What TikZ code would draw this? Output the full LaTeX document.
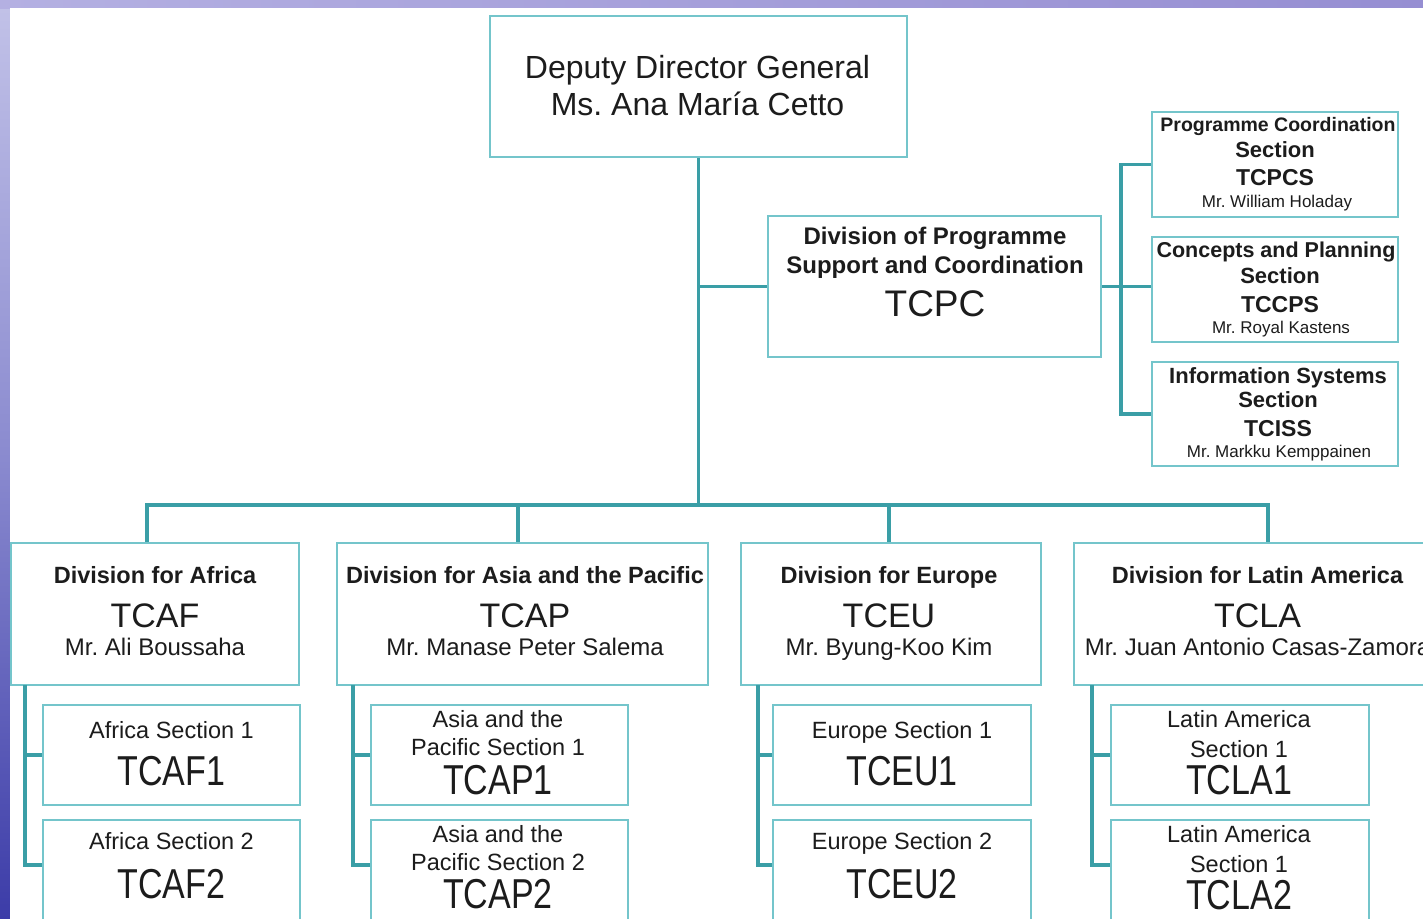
\documentclass[tikz,border=0pt]{standalone}
\usepackage{fontspec}
\setmainfont{Liberation Sans}
\usepackage{graphicx}
\frenchspacing

\definecolor{linkc}{HTML}{3A9EA6}
\definecolor{boxc}{HTML}{74C5CB}
\definecolor{inkc}{HTML}{1C1C1C}
\definecolor{bgtop}{HTML}{C2C2E8}
\definecolor{bgmid}{HTML}{8A8ACF}
\definecolor{bgbot}{HTML}{3C3CA8}
\definecolor{stripl}{HTML}{B4B0E2}
\definecolor{stripr}{HTML}{968ED2}

\newcommand{\fsz}[1]{\fontsize{#1}{#1}\selectfont}
\newcommand{\tallcode}[1]{\scalebox{1}[1.23]{#1}}
% a text line: name, x, baseline y, font, text
\newcommand{\putline}[5]{\node[txt, font=#4] (#1) at (#2,#3) {#5};}
% a box: name, centre x, centre y, width, height
\newcommand{\unitbox}[5]{\node[unit, minimum width=#4pt, minimum height=#5pt] (#1) at (#2,#3) {};}

\tikzset{
  link/.style={draw=linkc, line width=3.5pt},
  unit/.style={draw=boxc, line width=2pt, fill=white, inner sep=0pt, rectangle},
  txt/.style={anchor=base, inner sep=0pt, text=inkc},
}

\begin{document}
\begin{tikzpicture}[x=1pt, y=-1pt]
  \clip (0,0) rectangle (1423,918);

  % backdrop
  \shade[top color=bgtop, bottom color=bgbot, middle color=bgmid] (0,0) rectangle (1423,918);
  \shade[left color=stripl, right color=stripr] (0,0) rectangle (1423,8);
  \fill[white] (10,8) rectangle (1440,940);

  % boxes
  \unitbox{ddg}{698.5}{86.5}{417}{141}
  \unitbox{tcpc}{934.5}{286.5}{333}{141}
  \unitbox{pcs}{1275}{164.5}{246}{105}
  \unitbox{cps}{1275}{289.5}{246}{105}
  \unitbox{iss}{1275}{414}{246}{104}

  \unitbox{afr}{155}{614}{288}{142}
  \unitbox{asp}{522.5}{614}{371}{142}
  \unitbox{eur}{891}{614}{300}{142}
  \unitbox{lat}{1258}{614}{368}{142}

  \unitbox{af1}{171.5}{755}{257}{100}
  \unitbox{af2}{171.5}{880}{257}{120}
  \unitbox{ap1}{499.5}{755}{257}{100}
  \unitbox{ap2}{499.5}{880}{257}{120}
  \unitbox{eu1}{902}{755}{258}{100}
  \unitbox{eu2}{902}{880}{258}{120}
  \unitbox{la1}{1240}{755}{258}{100}
  \unitbox{la2}{1240}{880}{258}{120}

  % connectors
  \coordinate (busy) at (0,505);
  \coordinate (dafr) at (147,505);
  \coordinate (dasp) at (518,505);
  \coordinate (deur) at (889,505);
  \coordinate (dlat) at (1268,505);
  \coordinate (rt) at (1121,0);

  \draw[link] (ddg.south) -- (ddg.south |- busy);
  \draw[link] (ddg.south |- tcpc.west) -- (tcpc.west);
  \draw[link, line cap=rect] (dafr) -- (dlat);
  \draw[link] (dafr) -- (dafr |- afr.north);
  \draw[link] (dasp) -- (dasp |- asp.north);
  \draw[link] (deur) -- (deur |- eur.north);
  \draw[link] (dlat) -- (dlat |- lat.north);

  \draw[link] (tcpc.east) -- (tcpc.east -| cps.west);
  \draw[link] (pcs.west) -- (rt |- pcs.west) -- (rt |- iss.west) -- (iss.west);

  \coordinate (vafr) at (25,685);
  \coordinate (vasp) at (353,685);
  \coordinate (veur) at (758,685);
  \coordinate (vlat) at (1092,685);
  \draw[link] (vafr) |- ([yshift=-46pt]af2.north west);
  \draw[link] (vafr |- af1.west) -- (af1.west);
  \draw[link] (vasp) |- ([yshift=-46pt]ap2.north west);
  \draw[link] (vasp |- ap1.west) -- (ap1.west);
  \draw[link] (veur) |- ([yshift=-46pt]eu2.north west);
  \draw[link] (veur |- eu1.west) -- (eu1.west);
  \draw[link] (vlat) |- ([yshift=-46pt]la2.north west);
  \draw[link] (vlat |- la1.west) -- (la1.west);

  % texts: top
  \putline{ddg-a}{697.5}{78}{\fsz{32}}{Deputy Director General}
  \putline{ddg-b}{697.5}{115}{\fsz{32}}{Ms. Ana María Cetto}

  \putline{tcpc-a}{935}{244}{\bfseries\fsz{24}}{Division of Programme}
  \putline{tcpc-b}{935}{273}{\bfseries\fsz{24}}{Support and Coordination}
  \putline{tcpc-c}{935}{316.5}{\fsz{37}}{TCPC}

  \putline{pcs-a}{1278}{131}{\bfseries\fsz{19.5}}{Programme Coordination}
  \putline{pcs-b}{1275}{157}{\bfseries\fsz{22}}{Section}
  \putline{pcs-c}{1275}{185}{\bfseries\fsz{23}}{TCPCS}
  \putline{pcs-d}{1277}{207}{\fsz{17}}{Mr. William Holaday}

  \putline{cps-a}{1276}{257}{\bfseries\fsz{21.5}}{Concepts and Planning}
  \putline{cps-b}{1280}{283}{\bfseries\fsz{22}}{Section}
  \putline{cps-c}{1280}{312}{\bfseries\fsz{23}}{TCCPS}
  \putline{cps-d}{1281}{333}{\fsz{17}}{Mr. Royal Kastens}

  \putline{iss-a}{1278}{383}{\bfseries\fsz{22}}{Information Systems}
  \putline{iss-b}{1278}{407}{\bfseries\fsz{22}}{Section}
  \putline{iss-c}{1278}{436}{\bfseries\fsz{23}}{TCISS}
  \putline{iss-d}{1279}{457}{\fsz{17}}{Mr. Markku Kemppainen}

  % texts: divisions
  \putline{afr-a}{155}{583}{\bfseries\fsz{23.5}}{Division for Africa}
  \putline{afr-b}{155}{627}{\fsz{34}}{TCAF}
  \putline{afr-c}{155}{655}{\fsz{24}}{Mr. Ali Boussaha}

  \putline{asp-a}{525}{583}{\bfseries\fsz{23.5}}{Division for Asia and the Pacific}
  \putline{asp-b}{525}{627}{\fsz{34}}{TCAP}
  \putline{asp-c}{525}{655}{\fsz{24}}{Mr. Manase Peter Salema}

  \putline{eur-a}{889}{583}{\bfseries\fsz{23.5}}{Division for Europe}
  \putline{eur-b}{889}{627}{\fsz{34}}{TCEU}
  \putline{eur-c}{889}{655}{\fsz{24}}{Mr. Byung-Koo Kim}

  \putline{lat-a}{1257.5}{583}{\bfseries\fsz{23.5}}{Division for Latin America}
  \putline{lat-b}{1257.5}{627}{\fsz{34}}{TCLA}
  \putline{lat-c}{1257.5}{655}{\fsz{24}}{Mr. Juan Antonio Casas-Zamora}

  % texts: sections
  \putline{af1-a}{171.5}{738}{\fsz{23.5}}{Africa Section 1}
  \putline{af1-b}{171.5}{785}{\fsz{34}}{\tallcode{TCAF1}}
  \putline{af2-a}{171.5}{849}{\fsz{23.5}}{Africa Section 2}
  \putline{af2-b}{171.5}{898}{\fsz{34}}{\tallcode{TCAF2}}

  \putline{ap1-a}{498}{727}{\fsz{23.5}}{Asia and the}
  \putline{ap1-b}{498}{755}{\fsz{23.5}}{Pacific Section 1}
  \putline{ap1-c}{498}{794}{\fsz{34}}{\tallcode{TCAP1}}
  \putline{ap2-a}{498}{842}{\fsz{23.5}}{Asia and the}
  \putline{ap2-b}{498}{870}{\fsz{23.5}}{Pacific Section 2}
  \putline{ap2-c}{498}{908}{\fsz{34}}{\tallcode{TCAP2}}

  \putline{eu1-a}{902}{738}{\fsz{23.5}}{Europe Section 1}
  \putline{eu1-b}{902}{785}{\fsz{34}}{\tallcode{TCEU1}}
  \putline{eu2-a}{902}{849}{\fsz{23.5}}{Europe Section 2}
  \putline{eu2-b}{902}{898}{\fsz{34}}{\tallcode{TCEU2}}

  \putline{la1-a}{1239}{727}{\fsz{23.5}}{Latin America}
  \putline{la1-b}{1239}{757}{\fsz{23.5}}{Section 1}
  \putline{la1-c}{1239}{794}{\fsz{34}}{\tallcode{TCLA1}}
  \putline{la2-a}{1239}{842}{\fsz{23.5}}{Latin America}
  \putline{la2-b}{1239}{872}{\fsz{23.5}}{Section 1}
  \putline{la2-c}{1239}{909}{\fsz{34}}{\tallcode{TCLA2}}
\end{tikzpicture}
\end{document}
